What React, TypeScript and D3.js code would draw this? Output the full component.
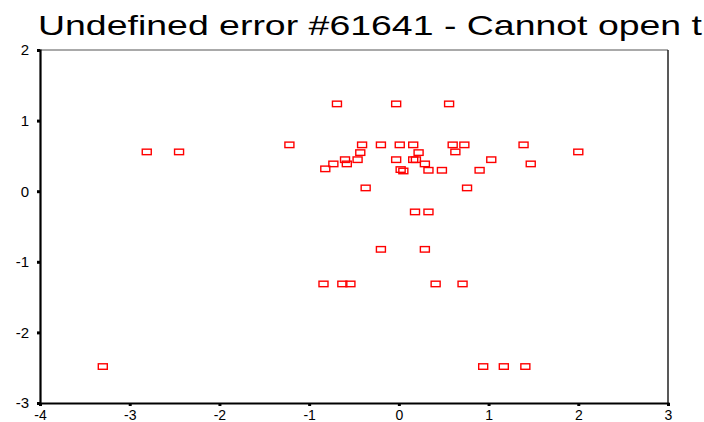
import React, { useEffect, useRef } from 'react';
import * as d3 from 'd3';

// scatter points
const xValues = [
  -3.30, -2.81, -2.45, -1.22, -0.69, -0.03, 0.56, -0.41, -0.20, 0.01,
  0.16, 0.60, 0.73, 1.39, -0.43, 0.22, 0.63, -0.73, -0.60, -0.46,
  -0.58, -0.82, -0.03, 0.16, 0.19, 0.29, 0.02, 0.05, 0.33, 0.48,
  0.90, 1.03, 1.47, -0.37, 0.76, 2.00, 0.18, 0.33, -0.20, 0.29,
  -0.84, -0.63, -0.54, 0.41, 0.71, 0.94, 1.17, 1.41,
];
const yValues = [
  -2.48, 0.56, 0.56, 0.66, 1.24, 1.24, 1.24, 0.66, 0.66, 0.66,
  0.66, 0.66, 0.66, 0.66, 0.55, 0.55, 0.56, 0.39, 0.45, 0.45,
  0.39, 0.32, 0.45, 0.45, 0.45, 0.39, 0.31, 0.29, 0.30, 0.30,
  0.30, 0.45, 0.39, 0.05, 0.05, 0.56, -0.29, -0.29, -0.82, -0.82,
  -1.31, -1.31, -1.31, -1.31, -1.31, -2.48, -2.48, -2.48,
];
const xTicks = [-4, -3, -2, -1, 0, 1, 2, 3];
const yTicks = [-3, -2, -1, 0, 1, 2];
const title = 'Undefined error #61641 - Cannot open t';

const App = () => {
  const svgRef = useRef<SVGSVGElement>(null);

  useEffect(() => {
    const svg = d3.select(svgRef.current);
    svg.selectAll('*').remove();

    const width = 704;
    const height = 422;
    const left = 40, right = 668, top = 50, bottom = 403;
    const font = 'Arial, "Liberation Sans", sans-serif';
    const fmt = (d: any) => String(d); // plain hyphen minus, like the original

    const x = d3.scaleLinear().domain([-4, 3]).range([left, right]);
    const y = d3.scaleLinear().domain([-3, 2]).range([bottom, top]);

    svg.attr('width', width).attr('height', height);

    svg.append('rect')
      .attr('width', width)
      .attr('height', height)
      .attr('fill', '#fff');

    // title is stretched wide and runs off the right edge, like the original
    svg.append('text')
      .attr('x', 38)
      .attr('y', 35)
      .attr('textLength', 664)
      .attr('lengthAdjust', 'spacingAndGlyphs')
      .style('font-family', font)
      .style('font-size', '28px')
      .style('fill', '#000')
      .text(title);

    // frame: thin top/right, heavy left/bottom
    svg.append('line')
      .attr('x1', left).attr('x2', right)
      .attr('y1', top).attr('y2', top)
      .attr('stroke', '#555').attr('stroke-width', 1);
    svg.append('line')
      .attr('x1', right).attr('x2', right)
      .attr('y1', top).attr('y2', bottom)
      .attr('stroke', '#222').attr('stroke-width', 1.5);

    // y axis
    const yAxis = d3.axisLeft(y)
      .tickValues(yTicks)
      .tickFormat(fmt)
      .tickSize(3)
      .tickPadding(8);
    const gy = svg.append('g')
      .attr('transform', `translate(${left},0)`)
      .call(yAxis);
    gy.select('.domain').attr('stroke', '#000').attr('stroke-width', 2.2);
    gy.selectAll('.tick line').attr('stroke', '#000').attr('stroke-width', 3);
    gy.selectAll('.tick text')
      .style('font-family', font)
      .style('font-size', '15px')
      .attr('fill', '#000');

    // x axis, labels sit right at the bottom edge
    const xAxis = d3.axisBottom(x)
      .tickValues(xTicks)
      .tickFormat(fmt)
      .tickSize(3)
      .tickPadding(4);
    const gx = svg.append('g')
      .attr('transform', `translate(0,${bottom})`)
      .call(xAxis);
    gx.select('.domain').attr('stroke', '#000').attr('stroke-width', 2.2);
    gx.selectAll('.tick line').attr('stroke', '#000').attr('stroke-width', 3);
    gx.selectAll('.tick text')
      .style('font-family', font)
      .style('font-size', '14px')
      .attr('fill', '#000');

    // points
    const pts = xValues.map((v, i) => ({ x: v, y: yValues[i] }));
    svg.append('g')
      .selectAll('rect')
      .data(pts)
      .enter()
      .append('rect')
      .attr('x', d => x(d.x) - 4.5)
      .attr('y', d => y(d.y) - 2.5)
      .attr('width', 9)
      .attr('height', 5.5)
      .attr('fill', 'none')
      .attr('stroke', '#ff0000')
      .attr('stroke-width', 1.4);
  }, []);

  return (
    <div style={{ position: 'fixed', left: 0, top: 0 }}>
      <svg ref={svgRef} style={{ display: 'block' }}></svg>
    </div>
  );
};

export default App;
